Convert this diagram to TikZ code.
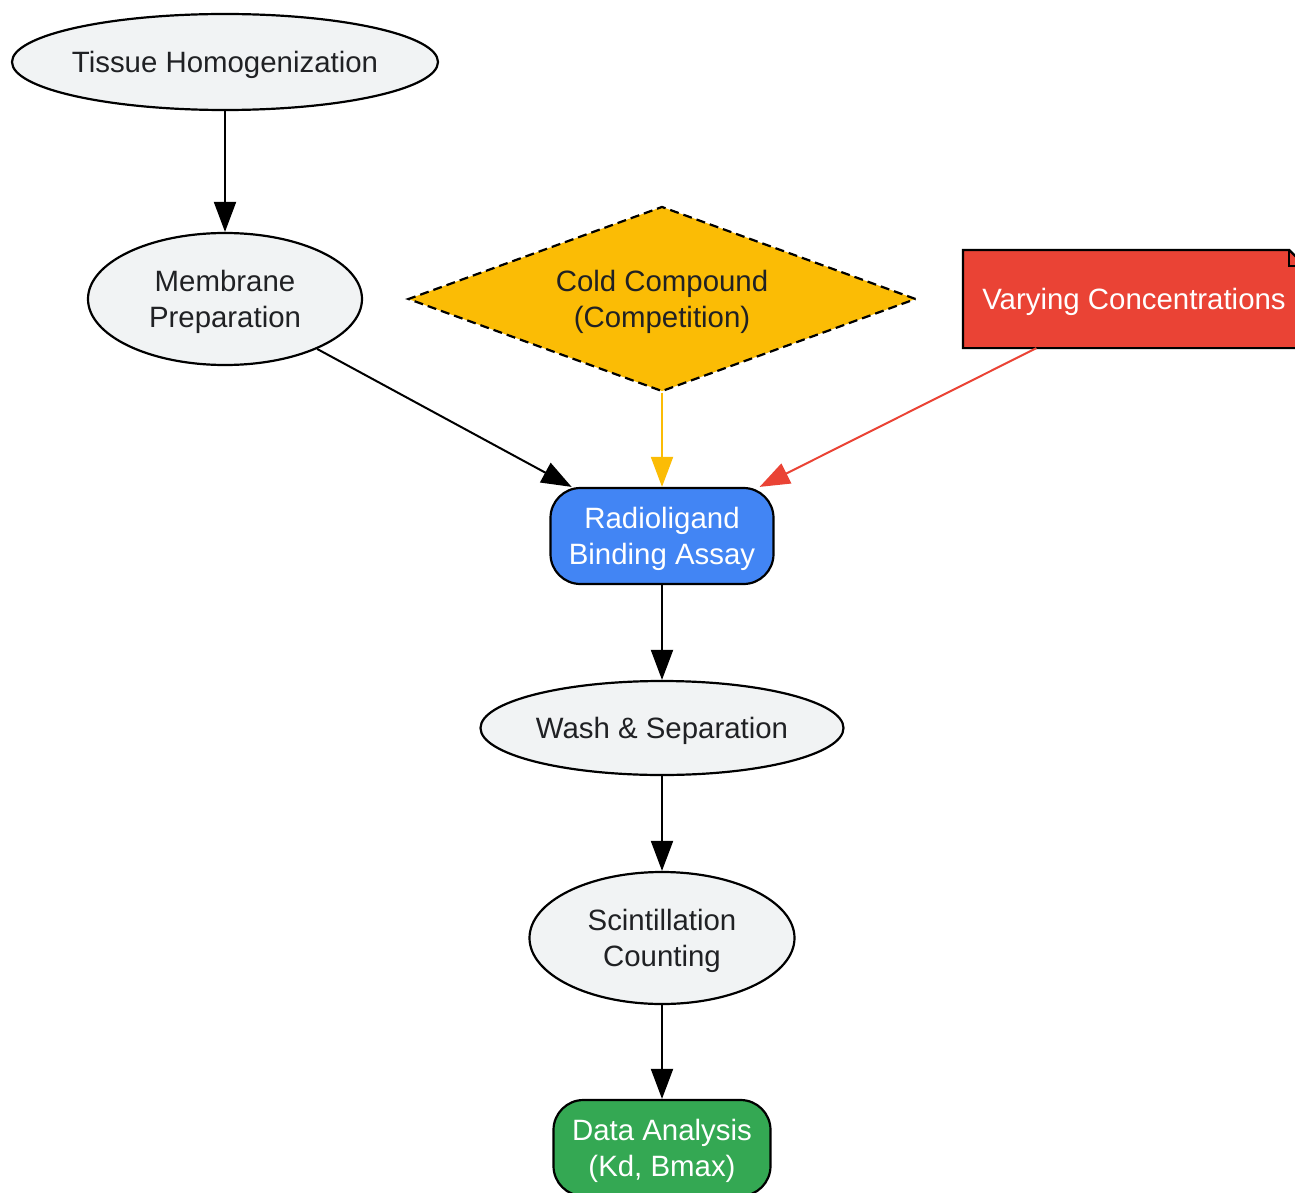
\documentclass[tikz,border=0pt]{standalone}
\usepackage{fontspec}
\setmainfont{Liberation Sans}
\usetikzlibrary{shapes.geometric,arrows.meta,backgrounds}
\definecolor{ovalgray}{HTML}{F1F3F4}
\definecolor{txtdark}{HTML}{202124}
\definecolor{gyellow}{HTML}{FBBC05}
\definecolor{gred}{HTML}{EA4335}
\definecolor{gblue}{HTML}{4285F4}
\definecolor{ggreen}{HTML}{34A853}
\newcommand{\tstrut}{\rule{0pt}{28pt}}
\begin{document}
\begin{tikzpicture}[x=1pt,y=-1pt,
  base/.style={draw=black,line width=2.2pt,font=\fontsize{29.4}{36}\selectfont,align=center,inner sep=0pt},
  oval/.style={base,ellipse,fill=ovalgray,text=txtdark},
  roundbox/.style={base,rectangle,rounded corners=30pt,text=white},
  decision/.style={base,diamond,fill=gyellow,text=txtdark,dash pattern=on 9pt off 5pt,aspect=2.75},
  arr/.style={line width=2pt,-{Triangle[length=30pt,width=22pt]}},
]
\useasboundingbox (0,0) rectangle (1295,1193);
\clip (0,0) rectangle (1295,1193);

\node[oval,inner xsep=-3pt,minimum width=426pt,minimum height=96pt] (tissue) at (225,62) {\tstrut Tissue Homogenization};
\node[oval,minimum width=274pt,minimum height=132pt] (membrane) at (225,299) {\tstrut Membrane\\Preparation};
\node[decision,minimum width=508pt,minimum height=185pt] (cold) at (662,299) {\tstrut Cold Compound\\(Competition)};
\node[base,draw=none,minimum width=340pt,minimum height=96pt,text=white] (vary) at (1134,299) {\tstrut Varying Concentrations};
\begin{pgfonlayer}{background}
\draw[line width=2.2pt,fill=gred] (vary.north west) -- ([xshift=-16pt]vary.north east) -- ([yshift=-16pt]vary.north east) -- (vary.south east) -- (vary.south west) -- cycle;
\draw[line width=2.2pt] ([xshift=-16pt]vary.north east) -- ([xshift=-16pt,yshift=-16pt]vary.north east) -- ([yshift=-16pt]vary.north east);
\end{pgfonlayer}
\node[roundbox,fill=gblue,minimum width=223pt,minimum height=96pt] (assay) at (662,536) {\tstrut Radioligand\\Binding Assay};
\node[oval,minimum width=363pt,minimum height=94pt] (wash) at (662,728) {\tstrut Wash \& Separation};
\node[oval,minimum width=265pt,minimum height=132pt] (scint) at (662,938) {\tstrut Scintillation\\Counting};
\node[roundbox,fill=ggreen,minimum width=217pt,minimum height=96pt] (data) at (662,1148) {\tstrut Data Analysis\\(Kd, Bmax)};

\draw[arr] (tissue) -- (membrane);
\draw[arr] (membrane) -- (assay);
\draw[arr,draw=gyellow,fill=gyellow] (cold) -- (assay);
\draw[arr,draw=gred,fill=gred] (vary) -- (assay);
\draw[arr] (assay) -- (wash);
\draw[arr] (wash) -- (scint);
\draw[arr] (scint) -- (data);
\end{tikzpicture}
\end{document}
